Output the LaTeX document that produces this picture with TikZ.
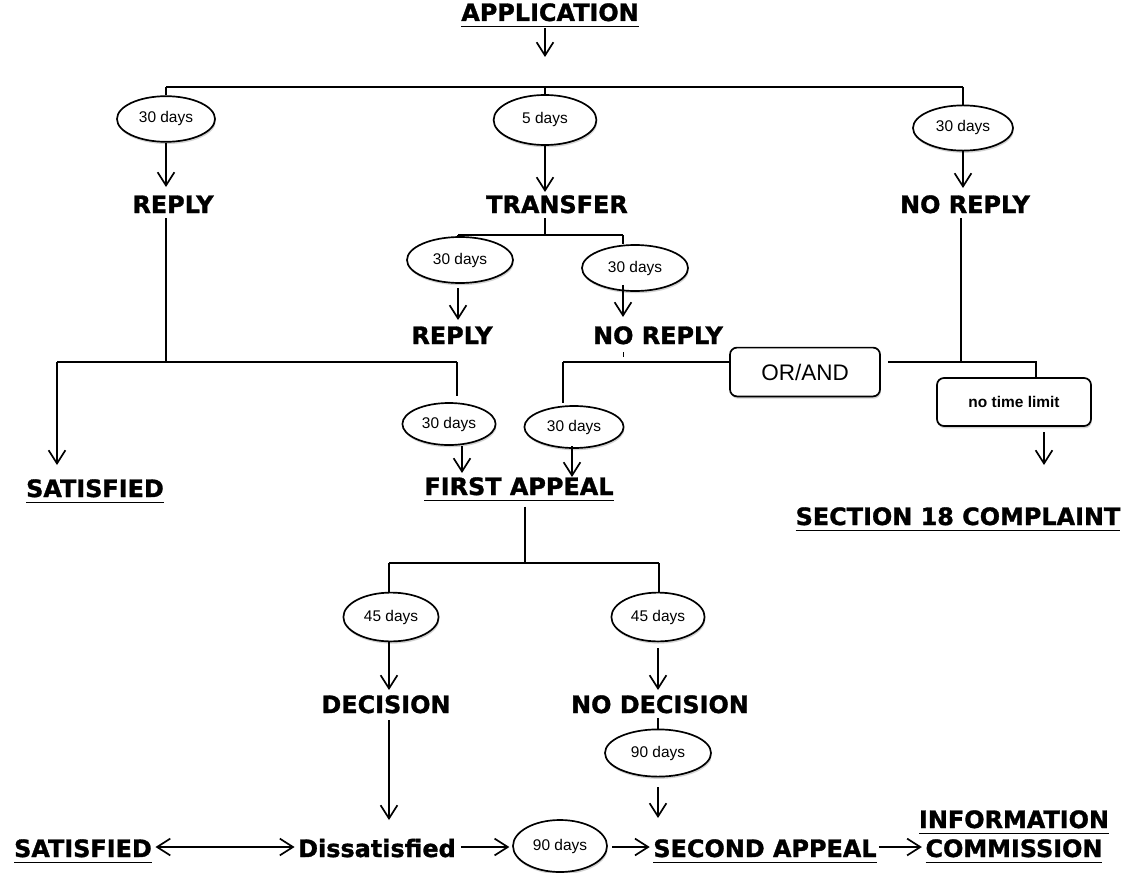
\documentclass[tikz,border=0pt]{standalone}
\usepackage{fontspec}
\setmainfont{DejaVu Sans}
\newfontfamily\lblfont[BoldFeatures={FakeBold=1.3}]{DejaVu Sans}
\newfontfamily\arialfont{Liberation Sans}
\usetikzlibrary{shapes.geometric,arrows.meta,shadows}

\newcommand\ulbl[1]{\leavevmode\setbox0\hbox{#1}\rlap{\rule[-4.6pt]{\wd0}{1.3pt}}\box0}

\begin{document}
\begin{tikzpicture}[x=0.025cm,y=-0.025cm,>={Straight Barb[length=3.3mm,width=4.2mm]},line width=1.2pt,
    lbl/.style={font=\lblfont\bfseries\fontsize{17}{20}\selectfont,inner sep=0pt,anchor=base},
    days/.style={ellipse,draw,fill=white,inner sep=0pt,font=\arialfont\fontsize{11}{13}\selectfont,
        drop shadow={shadow xshift=.6pt,shadow yshift=-1.6pt,opacity=.35}},
    rbox/.style={draw,rounded corners=5pt,fill=white,inner sep=0pt,
        drop shadow={shadow xshift=.6pt,shadow yshift=-1.6pt,opacity=.35}}]
    \useasboundingbox (0,0) rectangle (1129,873);

    % application and the three first answers
    \node[lbl] (app) at (550,21) {\ulbl{APPLICATION}};
    \coordinate (append) at (545,57);
    \coordinate (ta) at (166,87);
    \coordinate (tb) at (545,87);
    \coordinate (tc) at (963,87);
    \node[days,minimum width=2.45cm,minimum height=1.14cm] (d1) at (166,119) {30 days};
    \node[days,minimum width=2.57cm,minimum height=1.25cm] (d2) at (545,120) {5 days};
    \node[days,minimum width=2.5cm,minimum height=1.13cm] (d3) at (963,128) {30 days};
    \node[lbl] (rep1) at (173,213) {REPLY};
    \node[lbl] (tra) at (557,213) {TRANSFER};
    \node[lbl] (nrep1) at (965,213) {NO REPLY};

    \draw[->] (append |- app.south) -- (append);
    \draw (ta) -- (tc);
    \draw (ta) -- (d1.north);
    \draw (tb) -- (d2.north);
    \draw (tc) -- (d3.north);
    \draw[->] (d1.south) -- (166,187);
    \draw[->] (d2.south) -- (545,192);
    \draw[->] (d3.south) -- (963,188);

    % after transfer
    \coordinate (tj) at (545,235);
    \coordinate (tl) at (458,235);
    \coordinate (tr) at (623,235);
    \node[days,minimum width=2.65cm,minimum height=1.15cm] (d4) at (460,260) {30 days};
    \node[days,minimum width=2.65cm,minimum height=1.15cm] (d5) at (635,268) {30 days};
    \node[lbl] (rep2) at (452,344) {REPLY};
    \node[lbl] (nrep2) at (658,344) {NO REPLY};

    \draw ([yshift=-3pt]tj |- tra.south) -- (tj);
    \draw (tl) -- (tr);
    \draw (tl) -- (tl |- d4.north);
    \draw (tr) -- (tr |- d5.north);
    \draw[->] ([yshift=-3pt]tl |- d4.south) -- (458,320);
    \draw[->] ([yshift=5pt]tr |- d5.south) -- (623,317);
    \draw[line width=.6pt] (623,352) -- (623,357);

    % junction row
    \coordinate (ll) at (57,362);
    \coordinate (lj) at (166,362);
    \coordinate (lr) at (457,362);
    \coordinate (ml) at (563,362);
    \coordinate (rj) at (961,362);
    \coordinate (rr) at (1036,362);
    \node[rbox,minimum width=3.75cm,minimum height=1.22cm,font=\arialfont\fontsize{16}{18}\selectfont] (orand) at (805,372) {OR/AND};
    \node[rbox,minimum width=3.85cm,minimum height=1.2cm,font=\arialfont\bfseries\fontsize{11}{13}\selectfont] (nolim) at (1014,402) {no time limit};
    \node[days,minimum width=2.33cm,minimum height=1.05cm] (d6) at (449,424) {30 days};
    \node[days,minimum width=2.48cm,minimum height=1.05cm] (d7) at (574,427) {30 days};
    \node[lbl] (sat1) at (95,497) {\ulbl{SATISFIED}};
    \node[lbl] (fa) at (519,495) {\ulbl{FIRST APPEAL}};
    \node[lbl] (sec18) at (958,525) {\ulbl{SECTION 18 COMPLAINT}};

    \draw ([yshift=-3pt]lj |- rep1.south) -- (lj);
    \draw (ll) -- (lr);
    \draw[->] (ll) -- (57,465);
    \draw (lr) -- (457,396);
    \draw (ml) -- (orand.west |- ml);
    \draw (ml) -- (563,403);
    \draw ([yshift=-3pt]rj |- nrep1.south) -- (rj);
    \draw ([xshift=5pt]orand.east |- rr) -- (rr) -- (rr |- nolim.north);
    \draw[->] (1044,432) -- (1044,465);
    \draw[->] (462,446) -- (462,473);
    \draw[->] (572,446) -- (572,477);

    % first appeal
    \coordinate (fj) at (525,563);
    \coordinate (fl) at (389,563);
    \coordinate (fr) at (659,563);
    \node[days,minimum width=2.38cm,minimum height=1.22cm] (d8) at (391,617) {45 days};
    \node[days,minimum width=2.33cm,minimum height=1.22cm] (d9) at (658,617) {45 days};
    \node[lbl] (dec) at (386,713) {DECISION};
    \node[lbl] (ndec) at (660,713) {NO DECISION};
    \node[days,minimum width=2.65cm,minimum height=1.18cm] (d10) at (658,753) {90 days};

    \draw ([yshift=-3pt]fj |- fa.south) -- (fj);
    \draw (fl) -- (fr);
    \draw (fl) -- (fl |- d8.north);
    \draw (fr) -- (fr |- d9.north);
    \draw[->] (fl |- d8.south) -- (389,690);
    \draw[->] (658,648) -- (658,690);
    \draw ([yshift=-3pt]d10.north |- ndec.south) -- (d10.north);
    \draw[->] ([yshift=-7pt]d10.south) -- (658,818);

    % second appeal row
    \coordinate (row) at (0,847);
    \node[lbl] (sat2) at (83,857) {\ulbl{SATISFIED}};
    \node[lbl] (dis) at (377,857) {Dissatisfied};
    \node[days,minimum width=2.35cm,minimum height=1.3cm] (d11) at (560,846) {90 days};
    \node[lbl] (sec) at (765,857) {\ulbl{SECOND APPEAL}};
    \node[lbl] (info) at (1014,828) {\ulbl{INFORMATION}};
    \node[lbl] (comm) at (1014,857) {\ulbl{COMMISSION}};

    \draw[->] ([yshift=-4pt]fl |- dec.south) -- (389,820);
    \draw[<->] ([xshift=2pt]sat2.east |- row) -- ([xshift=-2pt]dis.west |- row);
    \draw[->] ([xshift=3pt]dis.east |- row) -- ([xshift=-2pt]d11.west |- row);
    \draw[->] ([xshift=3pt]d11.east |- row) -- ([xshift=-2pt]sec.west |- row);
    \draw[->] ([xshift=1pt]sec.east |- row) -- ([xshift=-2pt]comm.west |- row);
\end{tikzpicture}
\end{document}
